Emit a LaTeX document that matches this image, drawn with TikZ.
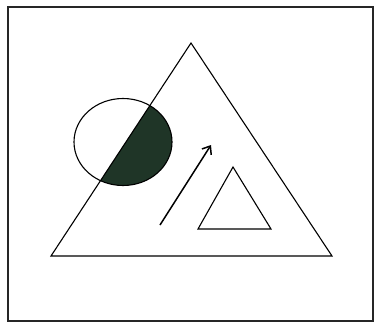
\documentclass[tikz,border=0pt]{standalone}
\usetikzlibrary{arrows.meta}
\definecolor{halfgreen}{HTML}{1F3527}
\tikzset{shape line/.style={draw=black, line width=1.1pt, line join=miter},
frame line/.style={draw=black!85, line width=1.5pt}}
\begin{document}
\begin{tikzpicture}[x=1pt,y=-1pt]
\useasboundingbox (0,0) rectangle (375,324);
\draw[frame line] (8,7) rectangle (373,321);
% shaded part of the ellipse inside the big triangle
\begin{scope}
\clip (191,43) -- (51,256) -- (332,256) -- cycle;
\fill[fill=halfgreen] (123,142) ellipse [x radius=49, y radius=43.5];
\end{scope}
\draw[shape line] (123,142) ellipse [x radius=49, y radius=43.5];
\coordinate (A) at (191,43);
\coordinate (B) at (51,256);
\coordinate (C) at (332,256);
\draw[shape line] (A) -- (B) -- (C) -- cycle;
\coordinate (a) at (233,167);
\coordinate (b) at (198,229);
\coordinate (c) at (271,229);
\draw[shape line] (a) -- (b) -- (c) -- cycle;
\coordinate (s) at (160,225);
\coordinate (t) at (211,145);
\draw[line width=1.5pt, -{Straight Barb[length=7pt,width=11pt]}] (s) -- (t);
\end{tikzpicture}
\end{document}
